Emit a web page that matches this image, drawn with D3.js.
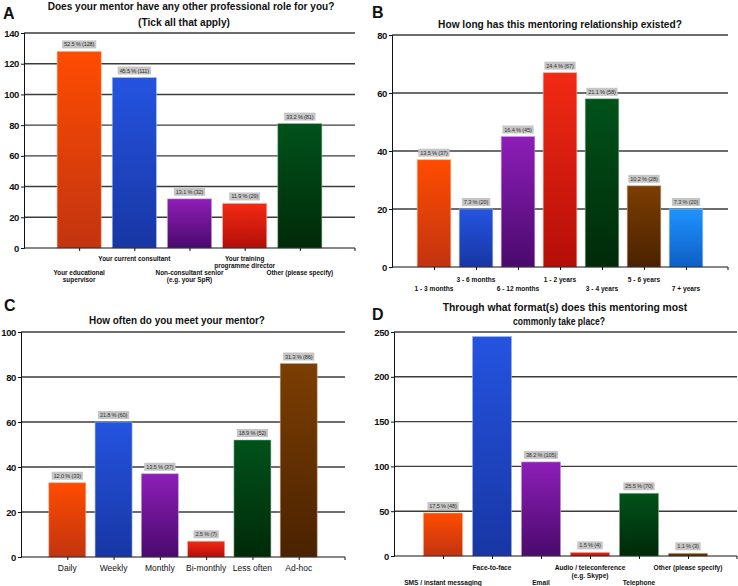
<!DOCTYPE html>
<html><head><meta charset="utf-8">
<script src="https://cdn.jsdelivr.net/npm/d3@7"></script>
<style>body{margin:0;background:#fff}svg{display:block}text{font-family:"Liberation Sans",Arial,Helvetica,sans-serif}</style>
</head><body><svg id="c" width="738" height="586"></svg>
<script>
// ---------- DATA ----------
const catsA = ["Your educational\nsupervisor","Your current consultant","Non-consultant senior\n(e.g. your SpR)","Your training\nprogramme director","Other (please specify)"];
const valsA = [128,111,32,29,81];
const pctA = ["52.5 %","45.5 %","13.1 %","11.9 %","33.2 %"];
const colorsA = ["orange","blue","purple","red","green"];
const ticksA = [0,20,40,60,80,100,120,140];
const titleA = ["Does your mentor have any other professional role for you?","(Tick all that apply)"];

const catsB = ["1 - 3 months","3 - 6 months","6 - 12 months","1 - 2 years","3 - 4 years","5 - 6 years","7 + years"];
const valsB = [37,20,45,67,58,28,20];
const pctB = ["13.5 %","7.3 %","16.4 %","24.4 %","21.1 %","10.2 %","7.3 %"];
const colorsB = ["orange","blue","purple","red","green","brown","lightblue"];
const ticksB = [0,20,40,60,80];
const titleB = ["How long has this mentoring relationship existed?"];

const catsC = ["Daily","Weekly","Monthly","Bi-monthly","Less often","Ad-hoc"];
const valsC = [33,60,37,7,52,86];
const pctC = ["12.0 %","21.8 %","13.5 %","2.5 %","18.9 %","31.3 %"];
const colorsC = ["orange","blue","purple","red","green","brown"];
const ticksC = [0,20,40,60,80,100];
const titleC = ["How often do you meet your mentor?"];

const catsD = ["SMS / instant messaging","Face-to-face","Email","Audio / teleconference\n(e.g. Skype)","Telephone","Other (please specify)"];
const valsD = [48,245,105,4,70,3];
const pctD = ["17.5 %",null,"38.2 %","1.5 %","25.5 %","1.1 %"];
const colorsD = ["orange","blue","purple","red","green","brown"];
const ticksD = [0,50,100,150,200,250];
const titleD = ["Through what format(s) does this mentoring most","commonly take place?"];

// ---------- STYLE ----------
const palette = {
  orange:   ["#ff4c00","#c23410","#ffb090"],
  blue:     ["#2454e0","#1836a4","#a8c0f0"],
  purple:   ["#8e1eb8","#4a0a6c","#c8a0e0"],
  red:      ["#f22a14","#b40e08","#f8a8a0"],
  green:    ["#00521a","#002a08","#90b898"],
  brown:    ["#7c3e02","#4a2200","#c8a888"],
  lightblue:["#1e94ff","#0e5ec4","#a0d0ff"]
};

const svg = d3.select("#c");
const defs = svg.append("defs");
Object.entries(palette).forEach(([k,c])=>{
  const g = defs.append("linearGradient").attr("id","g_"+k).attr("x1",0).attr("y1",0).attr("x2",0).attr("y2",1);
  g.append("stop").attr("offset","0%").attr("stop-color",c[0]);
  g.append("stop").attr("offset","100%").attr("stop-color",c[1]);
});

function panel(cfg){
  const g = svg.append("g");
  const x = d3.scalePoint().domain(cfg.cats).range([cfg.axisX, cfg.right]).padding(1);
  const y = d3.scaleLinear().domain([0, cfg.max]).range([cfg.yZero, cfg.yTop]);
  const step = x.step();
  const bw = step*0.8;

  g.selectAll("line.grid").data(cfg.ticks.filter(t=>t>0)).join("line")
    .attr("x1",cfg.axisX).attr("x2",cfg.right)
    .attr("y1",d=>y(d)).attr("y2",d=>y(d))
    .attr("stroke","#3c3c3c").attr("stroke-width",1.4);

  const data = cfg.cats.map((c,i)=>({c, v:cfg.vals[i], p:cfg.pcts[i], col:cfg.colors[i]}));
  g.selectAll("rect.bar").data(data).join("rect")
    .attr("x",d=>x(d.c)-bw/2).attr("width",bw)
    .attr("y",d=>y(d.v)).attr("height",d=>y(0)-y(d.v))
    .attr("fill",d=>"url(#g_"+d.col+")")
    .attr("stroke",d=>palette[d.col][2]).attr("stroke-width",0.8).attr("stroke-opacity",0.7);

  const lab = g.selectAll("g.vl").data(data.filter(d=>d.p)).join("g")
    .attr("transform",d=>`translate(${x(d.c)},${y(d.v)-7})`);
  lab.each(function(d){
    const s = d3.select(this);
    const t = s.append("text").text(`${d.p} (${d.v})`)
      .attr("text-anchor","middle").attr("dominant-baseline","central")
      .attr("font-size",5.6).attr("fill","#333").attr("letter-spacing",-0.15);
    const w = t.node().getComputedTextLength();
    s.insert("rect","text").attr("x",-w/2-2).attr("y",-4).attr("width",w+4).attr("height",8).attr("fill","#c6c6c6");
  });

  const ya = g.append("g").attr("transform",`translate(${cfg.axisX},0)`)
    .call(d3.axisLeft(y).tickValues(cfg.ticks).tickSize(3).tickPadding(2).tickFormat(d3.format("d")));
  ya.select(".domain").attr("stroke","#111").attr("stroke-width",1);
  ya.selectAll(".tick line").attr("stroke","#111");
  ya.selectAll("text").attr("font-size",9.5).attr("font-weight","bold").attr("fill","#111")
    .attr("letter-spacing",-0.4)
    .style("font-family","'Liberation Sans',Arial,sans-serif");

  const xa = g.append("g").attr("transform",`translate(0,${cfg.yZero})`)
    .call(d3.axisBottom(x).tickSize(3).tickFormat(""));
  xa.select(".domain").attr("stroke","#111").attr("stroke-width",1)
    .attr("d",`M${cfg.axisX},0H${cfg.right}V3`);
  xa.selectAll(".tick line").attr("stroke","#111");

  cfg.cats.forEach((c,i)=>{
    const lines = c.split("\n");
    let y0;
    if(cfg.single) y0 = cfg.singleY;
    else y0 = (i%2===0) ? cfg.lowerY : cfg.upperY;
    const t = g.append("text").attr("text-anchor","middle")
      .attr("font-size",cfg.labFont).attr("font-weight",cfg.labWeight||"bold").attr("fill","#111");
    lines.forEach((l,j)=>{
      t.append("tspan").attr("x",x(c)).attr("y",y0+j*cfg.lineH).attr("dominant-baseline","central").text(l);
    });
  });

  cfg.title.forEach((tl,j)=>{
    const p = cfg.titlePos[j];
    const tg = g.append("g");
    const t = tg.append("text").text(tl).attr("x",0).attr("y",0).attr("text-anchor","middle")
      .attr("dominant-baseline","central").attr("font-size",11.5).attr("font-weight","bold").attr("fill","#111");
    const w = t.node().getComputedTextLength();
    tg.attr("transform",`translate(${p[0]},${p[1]}) scale(${p[2]/w},1)`);
  });
  g.append("text").text(cfg.letter[0]).attr("x",cfg.letter[1]).attr("y",cfg.letter[2])
    .attr("dominant-baseline","central").attr("font-size",16).attr("font-weight","bold").attr("fill","#111");
}

panel({cats:catsA, vals:valsA, pcts:pctA, colors:colorsA, ticks:ticksA, max:140,
  axisX:24, right:355, yTop:33, yZero:248,
  upperY:258, lowerY:272, lineH:7.5, labFont:6.4,
  title:titleA, titlePos:[[191,6,287],[184,22,92]], letter:["A",3,13]});

panel({cats:catsB, vals:valsB, pcts:pctB, colors:colorsB, ticks:ticksB, max:80,
  axisX:392, right:728, yTop:35, yZero:267,
  upperY:279, lowerY:288, lineH:8, labFont:6.6,
  title:titleB, titlePos:[[560,24,244]], letter:["B",372,12]});

panel({cats:catsC, vals:valsC, pcts:pctC, colors:colorsC, ticks:ticksC, max:100,
  axisX:21, right:345, yTop:332, yZero:557,
  single:true, singleY:568, lineH:8, labFont:8.5, labWeight:"normal",
  title:titleC, titlePos:[[177,320,176]], letter:["C",4,305]});

panel({cats:catsD, vals:valsD, pcts:pctD, colors:colorsD, ticks:ticksD, max:250,
  axisX:394, right:737, yTop:332, yZero:556,
  upperY:567, lowerY:582, lineH:8, labFont:6.6,
  title:titleD, titlePos:[[565,307,245],[559,321,92]], letter:["D",372,314]});
</script></body></html>
